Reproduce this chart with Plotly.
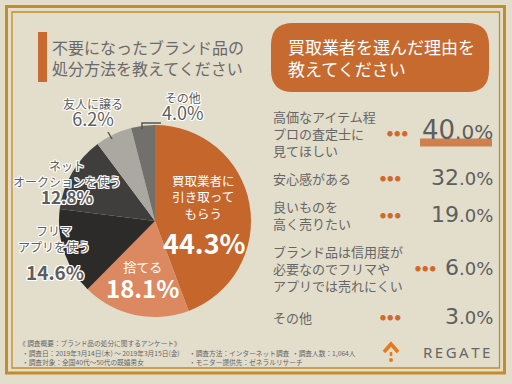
import plotly.graph_objects as go

W, H = 512, 384

# ---- data ----
pie_labels = ["買取業者に引き取ってもらう", "捨てる", "フリマアプリを使う",
              "ネットオークションを使う", "友人に譲る", "その他"]
pie_values = [44.3, 18.1, 14.6, 12.8, 6.2, 4.0]
pie_colors = ["#c5662c", "#dc8860", "#2c2b2a", "#3f3e3c", "#aaa8a1", "#72706b"]

reason_labels = [
    "高価なアイテム程<br>プロの査定士に<br>見てほしい",
    "安心感がある",
    "良いものを<br>高く売りたい",
    "ブランド品は信用度が<br>必要なのでフリマや<br>アプリでは売れにくい",
    "その他",
]
reason_values = [40.0, 32.0, 19.0, 6.0, 3.0]

title_left = "不要になったブランド品の<br>処分方法を教えてください"
title_right = "買取業者を選んだ理由を<br>教えてください"
footer_lines = [
    ("《 調査概要：ブランド品の処分に関するアンケート》", 18, 343),
    ("・調査日：2019年3月14日(木) 〜 2019年3月15日(金)", 21, 353),
    ("・調査方法：インターネット調査", 188, 353),
    ("・調査人数：1,064人", 291, 353),
    ("・調査対象：全国40代〜50代の既婚男女", 21, 362),
    ("・モニター提供先：ゼネラルリサーチ", 188, 362),
]

FONT = "Noto Sans CJK JP"
NUMFONT = "DejaVu Sans"
BG = "#e3ddcb"
GOLD = "#c48c2a"
ORANGE = "#c76a30"
GRAY = "#5e5e5e"


def X(px):
    return px / W


def Y(py):
    return 1 - py / H


fig = go.Figure()
fig.add_trace(go.Pie(
    values=pie_values, labels=pie_labels, sort=False, direction="clockwise",
    rotation=0, marker=dict(colors=pie_colors, line=dict(width=0)),
    textinfo="none", hoverinfo="skip", showlegend=False,
    domain=dict(x=[X(59), X(251)], y=[Y(317), Y(125)]),
))

shapes = []
ann = []

# frame
shapes.append(dict(type="rect", xref="paper", yref="paper", x0=X(6.5), x1=X(504.5),
                   y0=Y(6.5), y1=Y(373), line=dict(color=GOLD, width=3)))
shapes.append(dict(type="rect", xref="paper", yref="paper", x0=X(12), x1=X(499.5),
                   y0=Y(12), y1=Y(368), line=dict(color=GOLD, width=1.3)))

# left title bar
shapes.append(dict(type="rect", xref="paper", yref="paper", x0=X(38), x1=X(47),
                   y0=Y(32), y1=Y(82), fillcolor="#c96a30", line=dict(width=0)))
ann.append(dict(x=X(51), y=Y(58), text=title_left, showarrow=False, xanchor="left",
                yanchor="middle", align="left", borderpad=0,
                font=dict(family=FONT, size=16, color="#6a6a6a")))

# right header rounded box
x0, x1, y0, y1, r = 271, 489, 23, 92, 22
p = (f"M {X(x0+r)},{Y(y0)} L {X(x1-r)},{Y(y0)} Q {X(x1)},{Y(y0)} {X(x1)},{Y(y0+r)} "
     f"L {X(x1)},{Y(y1-r)} Q {X(x1)},{Y(y1)} {X(x1-r)},{Y(y1)} "
     f"L {X(x0+r)},{Y(y1)} Q {X(x0)},{Y(y1)} {X(x0)},{Y(y1-r)} "
     f"L {X(x0)},{Y(y0+r)} Q {X(x0)},{Y(y0)} {X(x0+r)},{Y(y0)} Z")
shapes.append(dict(type="path", xref="paper", yref="paper", path=p,
                   fillcolor=ORANGE, line=dict(width=0)))
ann.append(dict(x=X(287), y=Y(57), text=title_right, showarrow=False, xanchor="left",
                yanchor="middle", align="left", borderpad=0,
                font=dict(family=FONT, size=17, color="white")))

# pie labels
shadow = ("1px 1px 0 #fff, -1px -1px 0 #fff, 1px -1px 0 #fff, -1px 1px 0 #fff, "
          "0 1px 0 #fff, 0 -1px 0 #fff, 1px 0 0 #fff, -1px 0 0 #fff")


def lab(x, y, t, size, color, sh=None):
    f = dict(family=FONT, size=size, color=color)
    if sh:
        f["shadow"] = sh
    ann.append(dict(x=X(x), y=Y(y), text=t, showarrow=False, xanchor="center",
                    yanchor="middle", align="center", borderpad=0, font=f))


def sp(t, size, bold=False):
    s = f"<span style='font-size:{size}px'>{t}</span>"
    return f"<b>{s}</b>" if bold else s


lab(203, 197, "買取業者に<br>引き取って<br>もらう", 12.5, "white")
lab(204, 242, sp(f"{pie_values[0]}%", 27, True), 27, "white")
lab(142, 281, sp("捨てる", 13) + "<br>" + sp(f"{pie_values[1]}%", 24, True), 20, "white")
lab(54, 238, "フリマ<br>アプリを使う", 12, GRAY, sh=shadow)
lab(55, 271, sp(f"{pie_values[2]}%", 19, True), 19, GRAY, sh=shadow)
lab(67, 183, sp("ネット", 12) + "<br>" + sp("オークションを使う", 12) + "<br>"
    + sp(f"{pie_values[3]}%", 17, True), 12.5, GRAY, sh=shadow)
lab(93, 113, sp("友人に譲る", 12) + "<br>" + sp(f"{pie_values[4]}%", 18), 13, GRAY, sh=shadow)
lab(183, 107, sp("その他", 12) + "<br>" + sp(f"{pie_values[5]}%", 18), 13, GRAY, sh=shadow)

# leader lines
shapes.append(dict(type="line", xref="paper", yref="paper", x0=X(108), y0=Y(132),
                   x1=X(112), y1=Y(139), line=dict(color="#555", width=1.5)))
shapes.append(dict(type="path", xref="paper", yref="paper",
                   path=f"M {X(142)},{Y(129)} L {X(142)},{Y(123)} L {X(161)},{Y(123)}",
                   line=dict(color="#555", width=1.5)))

# underline under the top reason value
shapes.append(dict(type="rect", xref="paper", yref="paper", x0=X(420), x1=X(492),
                   y0=Y(138.5), y1=Y(146.5), fillcolor="#d0804e", line=dict(width=0),
                   layer="above"))

# right list
ys = [133, 178, 215, 268, 317]
dots_x = [397, 390, 390, 425, 390]
for i, (lbl, v) in enumerate(zip(reason_labels, reason_values)):
    ann.append(dict(x=X(272), y=Y(ys[i]), text=lbl, showarrow=False, xanchor="left",
                    yanchor="middle", align="left", borderpad=0,
                    font=dict(family=FONT, size=13, color="#666")))
    ann.append(dict(x=X(dots_x[i]), y=Y(ys[i]), text="● ● ●", showarrow=False,
                    xanchor="center", yanchor="middle", borderpad=0,
                    font=dict(family=FONT, size=6, color="#d06a2c")))
    ip = f"{int(v)}"
    rest = f"{v:.1f}%"[len(ip):]
    big, small = (26, 20) if i == 0 else (22, 18)
    txt = sp(ip, big) + sp(rest, small)
    ann.append(dict(x=X(494), y=Y(ys[i] - 3 if i == 0 else ys[i] - 1), text=txt,
                    showarrow=False, xanchor="right", yanchor="middle", borderpad=0,
                    bgcolor="rgba(0,0,0,0)",
                    font=dict(family=NUMFONT, size=big, color=GRAY)))

# footer
for t, fx, fy in footer_lines:
    ann.append(dict(x=X(fx), y=Y(fy), text=t, showarrow=False, xanchor="left",
                    yanchor="middle", borderpad=0,
                    font=dict(family=FONT, size=6.7, color="#666")))

# logo
shapes.append(dict(type="path", xref="paper", yref="paper",
                   path=f"M {X(384)},{Y(352)} L {X(391)},{Y(344)} L {X(398)},{Y(352)}",
                   line=dict(color="#e8781e", width=3.5)))
shapes.append(dict(type="line", xref="paper", yref="paper", x0=X(391), x1=X(391),
                   y0=Y(352), y1=Y(356), line=dict(color="#e8781e", width=2.5)))
shapes.append(dict(type="circle", xref="paper", yref="paper", x0=X(389), x1=X(393),
                   y0=Y(358), y1=Y(362), fillcolor="#e8781e", line=dict(width=0)))
ann.append(dict(x=X(422), y=Y(352), text="R\u2009E\u2009G\u2009A\u2009T\u2009E",
                showarrow=False, xanchor="left", yanchor="middle", borderpad=0,
                font=dict(family="Noto Sans", size=15, color="#666")))

fig.update_layout(
    width=W, height=H, margin=dict(l=0, r=0, t=0, b=0),
    paper_bgcolor=BG, plot_bgcolor=BG, shapes=shapes, annotations=ann,
    showlegend=False,
)
fig.write_html("out.html", config={"displayModeBar": False},
               post_script="document.body.style.margin='0';document.body.style.padding='0';")
